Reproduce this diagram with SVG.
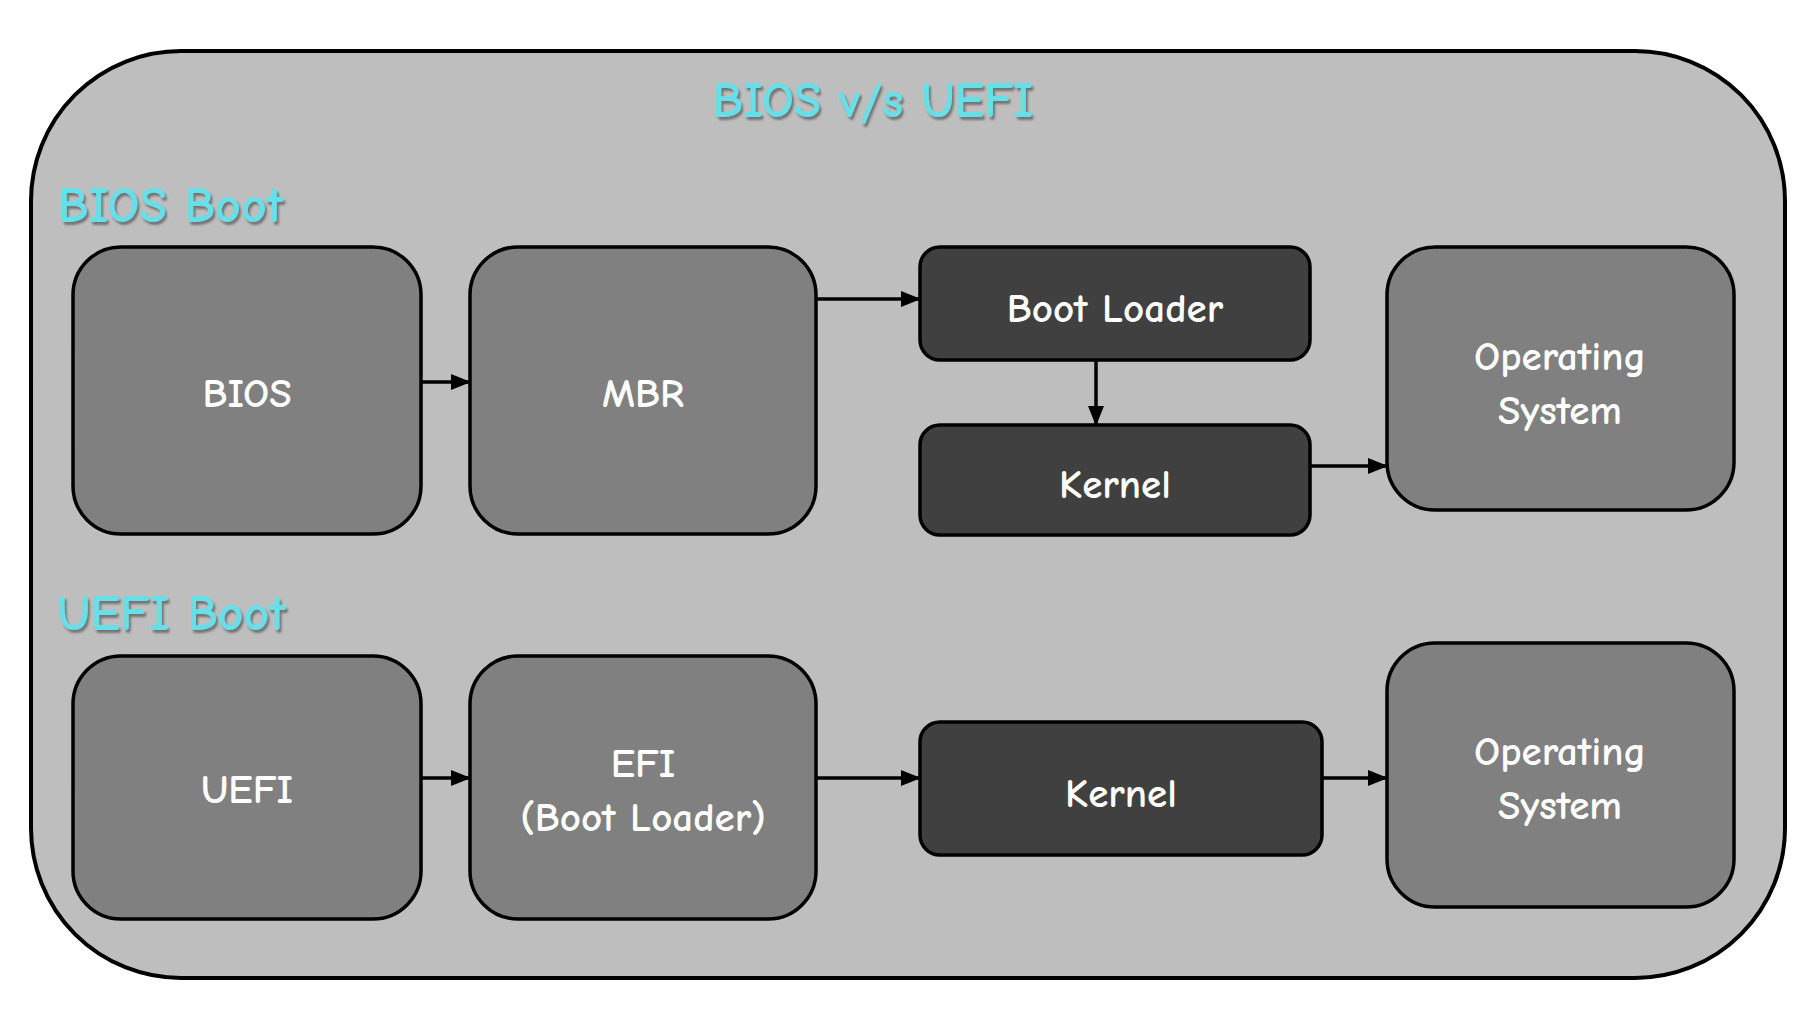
<svg xmlns="http://www.w3.org/2000/svg" width="1816" height="1034" viewBox="0 0 1816 1034">
<style>
  .outer { fill: #BEBEBE; stroke: #000; stroke-width: 4; }
  .big { fill: #808080; stroke: #000; stroke-width: 3.5; }
  .dark { fill: #404040; stroke: #000; stroke-width: 3.5; }
  .lbl { font-family: "Comic Sans MS", "Comic Neue", "Noto Sans", sans-serif; font-weight: 700; fill: #FFFFFF; font-size: 41px; text-anchor: middle; }
  .head { font-family: "Comic Sans MS", "Comic Neue", "Noto Sans", sans-serif; font-weight: 700; fill: #66DFE8; filter: url(#shadow); }
  .conn { stroke: #000; stroke-width: 3.5; fill: none; marker-end: url(#arrow); }
</style>
<defs>
  <marker id="arrow" markerUnits="userSpaceOnUse" markerWidth="20" markerHeight="16" refX="19" refY="8" orient="auto">
    <path d="M0,0 L20,8 L0,16 Z" fill="#000"/>
  </marker>
  <filter id="shadow" x="-10%" y="-20%" width="120%" height="150%">
    <feDropShadow dx="2" dy="3" stdDeviation="1.2" flood-color="#555555" flood-opacity="0.7"/>
  </filter>
</defs>
<rect width="1816" height="1034" fill="#FFFFFF"/>
<g id="container">
  <rect class="outer" x="31" y="51" width="1754" height="927" rx="150" ry="150"/>
  <text class="head" x="873" y="117" font-size="50" text-anchor="middle">BIOS v/s UEFI</text>
  <text class="head" x="58" y="222" font-size="50">BIOS Boot</text>
  <text class="head" x="57" y="630" font-size="50">UEFI Boot</text>
</g>
<g id="connectors">
  <line class="conn" x1="421" y1="382" x2="470" y2="382"/>
  <line class="conn" x1="816" y1="299" x2="920" y2="299"/>
  <line class="conn" x1="1096" y1="360" x2="1096" y2="425"/>
  <line class="conn" x1="1310" y1="466" x2="1387" y2="466"/>
  <line class="conn" x1="421" y1="778" x2="470" y2="778"/>
  <line class="conn" x1="816" y1="778" x2="920" y2="778"/>
  <line class="conn" x1="1322" y1="778" x2="1387" y2="778"/>
</g>
<g id="bios">
  <rect class="big" x="73" y="247" width="348" height="287" rx="48"/>
  <text class="lbl" x="247" y="407">BIOS</text>
</g>
<g id="mbr">
  <rect class="big" x="470" y="247" width="346" height="287" rx="48"/>
  <text class="lbl" x="643" y="407">MBR</text>
</g>
<g id="bootloader">
  <rect class="dark" x="920" y="247" width="390" height="113" rx="20"/>
  <text class="lbl" x="1115" y="322">Boot Loader</text>
</g>
<g id="kernel1">
  <rect class="dark" x="920" y="425" width="390" height="110" rx="20"/>
  <text class="lbl" x="1115" y="498">Kernel</text>
</g>
<g id="os1">
  <rect class="big" x="1387" y="247" width="347" height="263" rx="48"/>
  <text class="lbl" x="1560" y="370">Operating</text>
  <text class="lbl" x="1560" y="424">System</text>
</g>
<g id="uefi">
  <rect class="big" x="73" y="656" width="348" height="263" rx="48"/>
  <text class="lbl" x="247" y="803">UEFI</text>
</g>
<g id="efi">
  <rect class="big" x="470" y="656" width="346" height="263" rx="48"/>
  <text class="lbl" x="643" y="777">EFI</text>
  <text class="lbl" x="643" y="831">(Boot Loader)</text>
</g>
<g id="kernel2">
  <rect class="dark" x="920" y="722" width="402" height="133" rx="20"/>
  <text class="lbl" x="1121" y="807">Kernel</text>
</g>
<g id="os2">
  <rect class="big" x="1387" y="643" width="347" height="264" rx="48"/>
  <text class="lbl" x="1560" y="765">Operating</text>
  <text class="lbl" x="1560" y="819">System</text>
</g>
</svg>
